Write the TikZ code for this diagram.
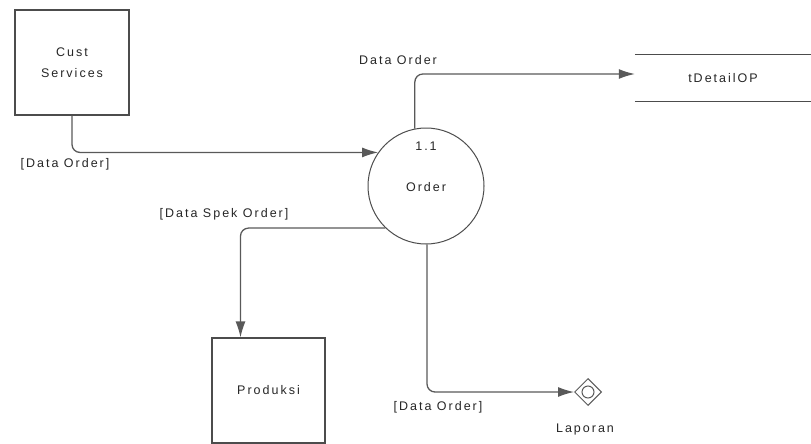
\documentclass[tikz,border=0pt]{standalone}
\usepackage{fontspec}
\setmainfont{Liberation Sans}[LetterSpace=16]
\usetikzlibrary{arrows.meta,shapes.geometric}
\begin{document}
\begin{tikzpicture}[x=1pt,y=-1pt,
  every node/.style={font=\fontsize{12.5}{14.5}\selectfont, text=black!85},
  proc/.style={draw=black!70, line width=1.2pt, minimum width=114pt, minimum height=105pt, align=center},
  bubble/.style={circle, draw=black!70, line width=1pt, minimum size=116pt, inner sep=0pt},
  flow/.style={draw=black!65, line width=1.3pt, rounded corners=8pt, -{Latex[length=16pt,width=10pt]}},
  lbl/.style={inner sep=0pt}]
\useasboundingbox (0,0) rectangle (811,444);
\node[proc] (cust) at (72,62.5) {Cust\\[7pt]Services};
\node[bubble] (order) at (426,186) {};
\node[lbl] (num) at (426,146) {1.1};
\node[lbl] (ordert) at (426,187) {Order};
\node[minimum width=176pt, minimum height=46pt, inner sep=0pt] (store) at (723,78) {tDetailOP};
\draw[black!70, line width=1.2pt] (store.north west) -- (store.north east);
\draw[black!70, line width=1.2pt] (store.south west) -- (store.south east);
\node[proc, minimum width=113pt] (prod) at (268.5,390.5) {Produksi};
\node[diamond, draw=black!65, line width=1pt, minimum size=27pt, inner sep=0pt] (lap) at (588,392) {};
\node[circle, draw=black!65, line width=1pt, minimum size=12pt, inner sep=0pt] (lapin) at (lap.center) {};
\draw[flow] (cust.south) |- (order.145);
\draw[flow] (order.101) |- ([yshift=4pt]store.west);
\draw[flow] (order.226) -| ([xshift=-28pt]prod.north);
\draw[flow] (order.271) |- (lap.west);
\node[lbl] (l1) at (65,164) {[Data Order]};
\node[lbl] (l2) at (398,60) {Data Order};
\node[lbl] (l3) at (224,214) {[Data Spek Order]};
\node[lbl] (l4) at (438,407) {[Data Order]};
\node[lbl] (l5) at (585,429) {Laporan};
\end{tikzpicture}
\end{document}
